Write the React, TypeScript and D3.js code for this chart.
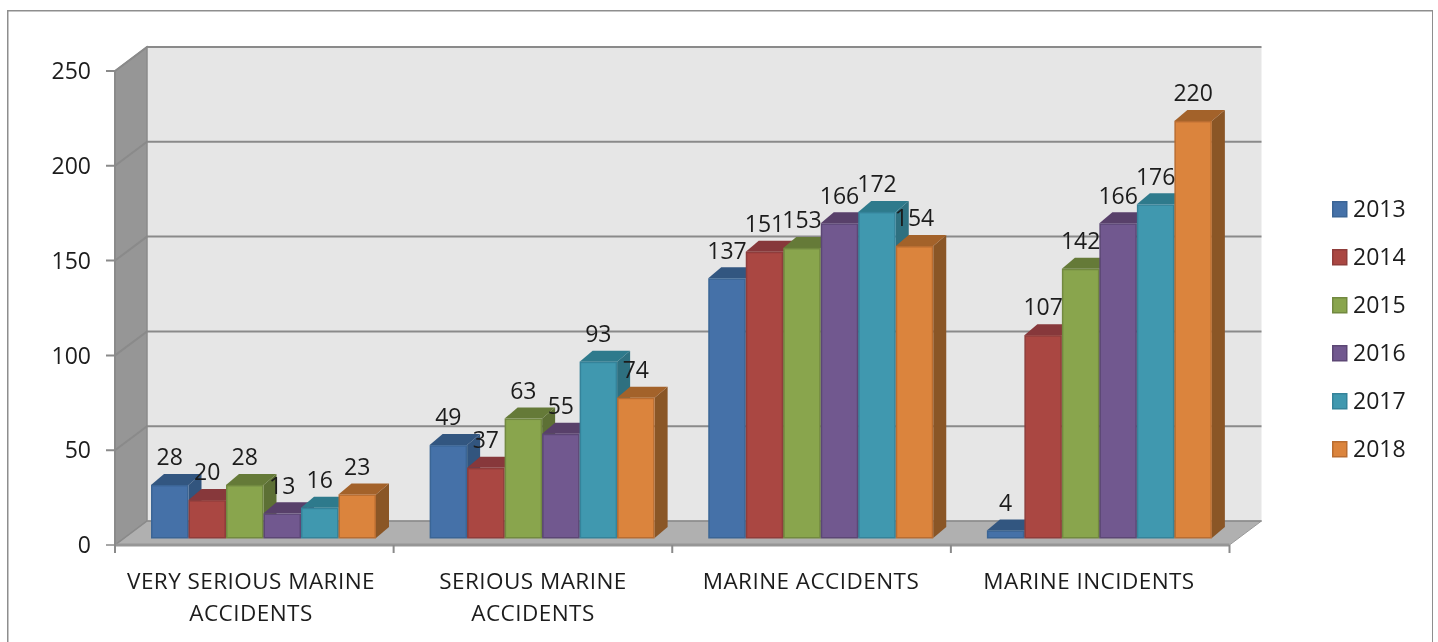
import React from "react";
import * as d3 from "d3";

const categories = [
  ["VERY SERIOUS MARINE", "ACCIDENTS"],
  ["SERIOUS MARINE", "ACCIDENTS"],
  ["MARINE ACCIDENTS"],
  ["MARINE INCIDENTS"],
];
const years = ["2013", "2014", "2015", "2016", "2017", "2018"];
const v2013 = [28, 49, 137, 4];
const v2014 = [20, 37, 151, 107];
const v2015 = [28, 63, 153, 142];
const v2016 = [13, 55, 166, 166];
const v2017 = [16, 93, 172, 176];
const v2018 = [23, 74, 154, 220];
const seriesValues = [v2013, v2014, v2015, v2016, v2017, v2018];
const yTicks = [0, 50, 100, 150, 200, 250];
const frontColors = ["#4571a8", "#aa4643", "#89a54e", "#71588f", "#4198af", "#db843d"];
const borderColors = ["#3a6595", "#8f3c3a", "#72893f", "#5c4775", "#35839a", "#b96d30"];
const topColors = ["#335680", "#87383a", "#657a38", "#593f6b", "#2f7a8c", "#a3622a"];
const sideColors = ["#31557e", "#7f3432", "#5d7034", "#533d69", "#2d6f80", "#8a5628"];

const FONT = "'Open Sans', sans-serif";
const INK = "#1c1c1c";
const x0 = d3.scaleBand<number>().domain([0, 1, 2, 3]).range([115, 1229.5]);
const x1 = d3.scaleBand<number>().domain([0, 1, 2, 3, 4, 5]).range([36, 261]);
const y = d3.scaleLinear().domain([0, 250]).range([545, 71]);
const WALL_DX = 32;
const WALL_DY = -24;
const BAR_BASE_INSET = 7;
const BAR_DX = 13;
const BAR_DY = -11;
const labelCenters = [251, 533, 811, 1089];
const poly = (pts: number[][]) => {
  const p = d3.path();
  pts.forEach(([a, b], i) => (i ? p.lineTo(a, b) : p.moveTo(a, b)));
  p.closePath();
  return p.toString();
};

export default function App() {
  const left = x0.range()[0];
  const right = x0.range()[1];
  const yB = y(0);
  const yT = y(250);
  return (
    <svg width={1438} height={642} style={{ position: "absolute", left: 0, top: 0 }} fontFamily={FONT}>
      <defs>
        <filter id="soft" x="0" y="0" width="100%" height="100%">
          <feGaussianBlur stdDeviation="0.45" />
        </filter>
      </defs>
      <rect width={1438} height={642} fill="#fff" />
      <g filter="url(#soft)">
        <path d="M7.5 642V10.5H1433V642" fill="none" stroke="#8e8e8e" strokeWidth={2} />
        {/* walls and floor */}
        <rect x={left + WALL_DX} y={yT + WALL_DY} width={right - left} height={yB - yT} fill="#e6e6e6" />
        <path d={poly([[left, yT], [left + WALL_DX, yT + WALL_DY], [left + WALL_DX, yB + WALL_DY], [left, yB]])} fill="#969696" stroke="#8a8a8a" strokeWidth={1.5} />
        <path d={poly([[left, yB], [left + WALL_DX, yB + WALL_DY], [right + WALL_DX, yB + WALL_DY], [right, yB]])} fill="#b0b0b0" stroke="#9a9a9a" strokeWidth={1} />
        {yTicks.map((t) => (
          <path
            key={t}
            d={`M${left - 9} ${y(t)}H${left}L${left + WALL_DX} ${y(t) + WALL_DY}H${right + WALL_DX}`}
            fill="none"
            stroke="#8a8a8a"
            strokeWidth={t === 0 ? 1.5 : 2}
          />
        ))}
        <path d={`M${left} ${yB}H${right}`} stroke="#969696" strokeWidth={3} fill="none" />
        <path d={`M${left} ${yT}V${yB}`} stroke="#8a8a8a" strokeWidth={2} fill="none" />
        {[0, 1, 2, 3, 4].map((i) => {
          const tx = left + i * x0.bandwidth();
          return <path key={i} d={`M${tx} ${yB}v8`} stroke="#8a8a8a" strokeWidth={2} />;
        })}
        {/* bars */}
        {categories.map((_, c) =>
          seriesValues.map((vals, s) => {
            const a = (x0(c) as number) + (x1(s) as number);
            const w = x1.bandwidth();
            const base = yB - BAR_BASE_INSET;
            const top = y(vals[c]) - BAR_BASE_INSET;
            return (
              <g key={`${c}-${s}`}>
                <path d={poly([[a + w, top], [a + w + BAR_DX, top + BAR_DY], [a + w + BAR_DX, base + BAR_DY], [a + w, base]])} fill={sideColors[s]} />
                <path d={poly([[a, top], [a + BAR_DX, top + BAR_DY], [a + w + BAR_DX, top + BAR_DY], [a + w, top]])} fill={topColors[s]} />
                <rect x={a + 0.75} y={top + 0.75} width={w - 1.5} height={base - top - 1} fill={frontColors[s]} stroke={borderColors[s]} strokeWidth={1.5} />
              </g>
            );
          })
        )}
        {/* texts */}
        <g fontSize={23} fill={INK}>
          {yTicks.map((t) => (
            <text key={t} x={91} y={y(t)} dy="0.36em" textAnchor="end">{t}</text>
          ))}
          {categories.map((_, c) =>
            seriesValues.map((vals, s) => (
              <text
                key={`${c}-${s}`}
                x={(x0(c) as number) + (x1(s) as number) + x1.bandwidth() / 2}
                y={y(vals[c]) - BAR_BASE_INSET - 28}
                dy="0.36em"
                textAnchor="middle"
              >
                {vals[c]}
              </text>
            ))
          )}
          {categories.map((lines, c) =>
            lines.map((ln, i) => (
              <text key={ln + i} x={labelCenters[c]} y={581 + i * 32} dy="0.36em" textAnchor="middle" fontSize={22.5} letterSpacing={0.45}>
                {ln}
              </text>
            ))
          )}
          {years.map((yr, i) => (
            <g key={yr}>
              <rect x={1332.75} y={201.75 + i * 48} width={14} height={15} fill={frontColors[i]} stroke={borderColors[i]} strokeWidth={1.5} />
              <text x={1353} y={209 + i * 48} dy="0.36em">{yr}</text>
            </g>
          ))}
        </g>
      </g>
    </svg>
  );
}
